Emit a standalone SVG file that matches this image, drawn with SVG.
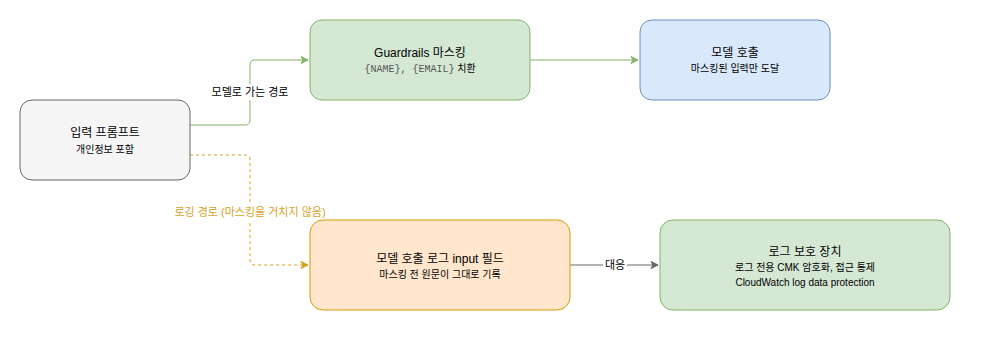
<svg xmlns="http://www.w3.org/2000/svg" width="982" height="342" viewBox="0 0 982 342">
<defs>
<style>
text{font-family:"Liberation Sans","Noto Sans CJK KR",sans-serif;fill:#000;text-anchor:middle}
.t{font-size:12px}
.s{font-size:10px}
.m{font-family:"Liberation Mono","Noto Sans CJK KR",monospace;fill:#555}
.lbl{font-size:11px}
.edge{fill:none;stroke-width:1}
</style>
<marker id="ag" markerWidth="10" markerHeight="10" refX="8" refY="5" orient="auto" markerUnits="userSpaceOnUse"><path d="M1,1.5 L8,5 L1,8.5 L3,5 Z" fill="#82b366" stroke="#82b366"/></marker>
<marker id="ao" markerWidth="10" markerHeight="10" refX="8" refY="5" orient="auto" markerUnits="userSpaceOnUse"><path d="M1,1.5 L8,5 L1,8.5 L3,5 Z" fill="#d6a21e" stroke="#d6a21e"/></marker>
<marker id="ak" markerWidth="10" markerHeight="10" refX="8" refY="5" orient="auto" markerUnits="userSpaceOnUse"><path d="M1,1.5 L8,5 L1,8.5 L3,5 Z" fill="#666" stroke="#666"/></marker>
</defs>
<rect width="982" height="342" fill="#fff"/>
<g id="connectors">
<path class="edge" d="M190,125 H245 Q250,125 250,120 V65 Q250,60 255,60 H308" stroke="#82b366" marker-end="url(#ag)"/>
<rect x="206" y="84" width="88" height="16" fill="#fff"/>
<text class="lbl" x="250" y="96">모델로 가는 경로</text>
<path class="edge" d="M190,155 H245 Q250,155 250,160 V260 Q250,265 255,265 H308" stroke="#d6a21e" stroke-dasharray="3,3" marker-end="url(#ao)"/>
<rect x="168" y="204" width="164" height="16" fill="#fff"/>
<text class="lbl" x="250" y="216" style="fill:#d6a21e">로깅 경로 (마스킹을 거치지 않음)</text>
<path class="edge" d="M530,60 H638" stroke="#82b366" marker-end="url(#ag)"/>
<path class="edge" d="M570,265 H658" stroke="#666" marker-end="url(#ak)"/>
<rect x="603" y="258" width="24" height="14" fill="#fff"/>
<text class="lbl" x="615" y="269">대응</text>
</g>
<g id="input">
<rect x="20" y="100" width="170" height="80" rx="12" fill="#f5f5f5" stroke="#666"/>
<text class="t" x="105" y="137">입력 프롬프트</text>
<text class="s" x="105" y="153">개인정보 포함</text>
</g>
<g id="guardrails">
<rect x="310" y="20" width="220" height="80" rx="12" fill="#d5e8d4" stroke="#82b366"/>
<text class="t" x="420" y="57">Guardrails 마스킹</text>
<text class="s" x="420" y="72"><tspan class="m">{NAME}, {EMAIL}</tspan> 치환</text>
</g>
<g id="model">
<rect x="640" y="20" width="190" height="80" rx="12" fill="#dae8fc" stroke="#6c8ebf"/>
<text class="t" x="735" y="57">모델 호출</text>
<text class="s" x="735" y="72">마스킹된 입력만 도달</text>
</g>
<g id="log">
<rect x="310" y="220" width="260" height="90" rx="13" fill="#ffe6cc" stroke="#d79b00"/>
<text class="t" x="440" y="263">모델 호출 로그 input 필드</text>
<text class="s" x="440" y="278">마스킹 전 원문이 그대로 기록</text>
</g>
<g id="protect">
<rect x="660" y="220" width="290" height="90" rx="13" fill="#d5e8d4" stroke="#82b366"/>
<text class="t" x="805" y="256">로그 보호 장치</text>
<text class="s" x="805" y="271">로그 전용 CMK 암호화, 접근 통제</text>
<text class="s" x="805" y="286">CloudWatch log data protection</text>
</g>
</svg>
